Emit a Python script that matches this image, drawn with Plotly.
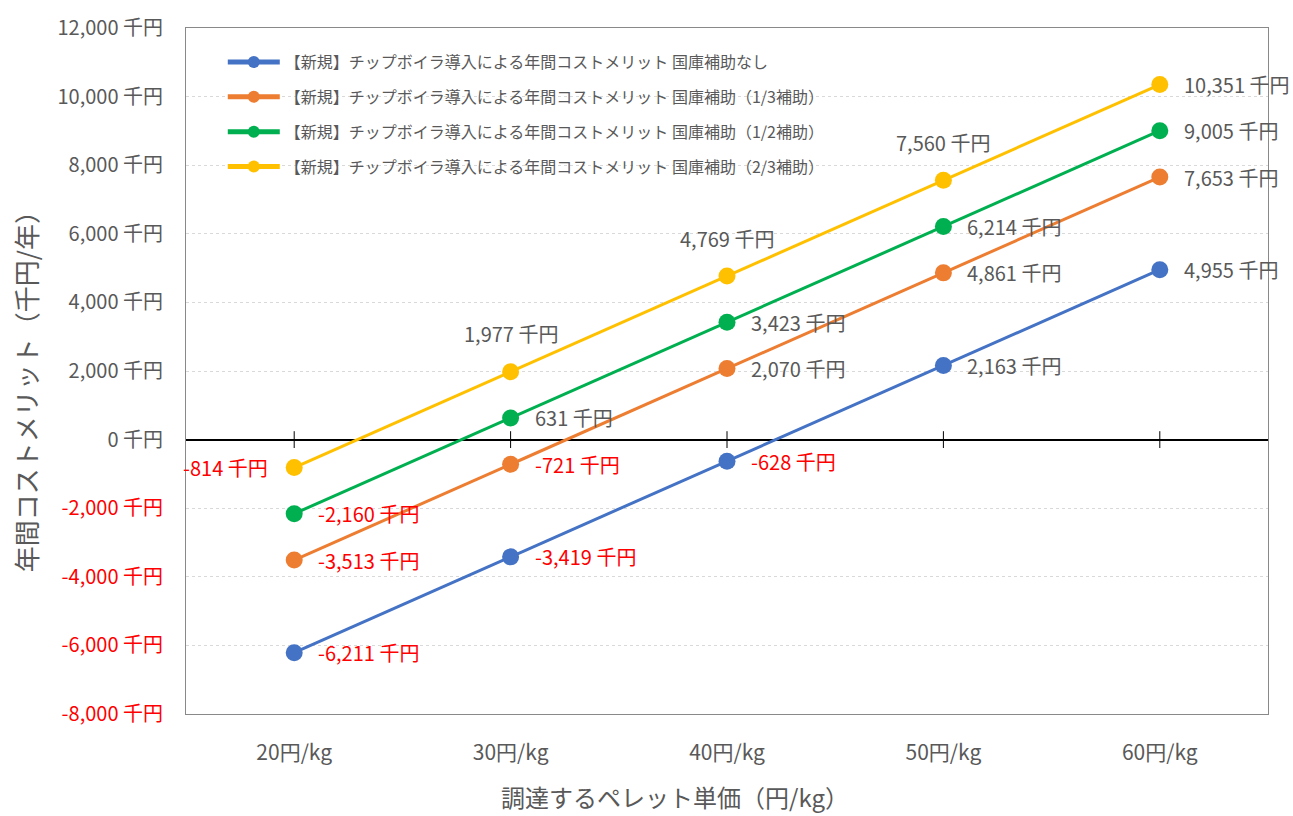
import plotly.graph_objects as go

categories = ["20円/kg", "30円/kg", "40円/kg", "50円/kg", "60円/kg"]
series_names = [
    "【新規】チップボイラ導入による年間コストメリット 国庫補助なし",
    "【新規】チップボイラ導入による年間コストメリット 国庫補助（1/3補助）",
    "【新規】チップボイラ導入による年間コストメリット 国庫補助（1/2補助）",
    "【新規】チップボイラ導入による年間コストメリット 国庫補助（2/3補助）",
]
blue_vals = [-6211, -3419, -628, 2163, 4955]
orange_vals = [-3513, -721, 2070, 4861, 7653]
green_vals = [-2160, 631, 3423, 6214, 9005]
yellow_vals = [-814, 1977, 4769, 7560, 10351]
y_ticks = [-8000, -6000, -4000, -2000, 0, 2000, 4000, 6000, 8000, 10000, 12000]

colors = ["#4472C4", "#ED7D31", "#00B050", "#FFC000"]
all_vals = [blue_vals, orange_vals, green_vals, yellow_vals]
# label placement per series/point
placements = [
    ["r"] * 5,
    ["r"] * 5,
    ["r"] * 5,
    ["l", "t", "t", "t", "r"],
]

FONT = "Noto Sans CJK JP"
GRAY = "#595959"
RED = "#FF0000"

fig = go.Figure()
for name, vals, col in zip(series_names, all_vals, colors):
    fig.add_trace(go.Scatter(
        x=categories, y=vals, name=name, mode="lines+markers",
        line=dict(color=col, width=3),
        marker=dict(color=col, size=17),
        legendgroup=name,
    ))

# cross tick marks on the zero line
fig.add_trace(go.Scatter(
    x=categories, y=[0] * len(categories), mode="markers",
    marker=dict(symbol="line-ns-open", size=12, color="#000000",
                line=dict(color="#000000", width=1)),
    showlegend=False, hoverinfo="skip",
))

annotations = []
for vals, places in zip(all_vals, placements):
    for cat, v, p in zip(categories, vals, places):
        txt = f"{v:,} 千円"
        col = RED if v < 0 else GRAY
        a = dict(x=cat, y=v, xref="x", yref="y", text=txt, showarrow=False,
                 font=dict(family=FONT, size=20, color=col))
        if p == "r":
            a.update(xanchor="left", yanchor="middle", xshift=22)
        elif p == "l":
            a.update(xanchor="right", yanchor="middle", xshift=-24)
        else:
            a.update(xanchor="center", yanchor="middle", yshift=38)
        annotations.append(a)

annotations.append(dict(
    x=0.452, y=-0.12, xref="paper", yref="paper", text="調達するペレット単価（円/kg）",
    showarrow=False, xanchor="center", yanchor="middle",
    font=dict(family=FONT, size=24, color=GRAY)))
annotations.append(dict(
    x=-0.148, y=0.479, xref="paper", yref="paper", text="年間コストメリット（千円/年）",
    showarrow=False, textangle=-90, xanchor="center", yanchor="middle",
    font=dict(family=FONT, size=26, color=GRAY)))

tick_text = [
    (f'<span style="color:{RED}">{t:,} 千円</span>' if t < 0 else f"{t:,} 千円")
    for t in y_ticks
]

fig.update_layout(
    width=1293, height=816,
    margin=dict(l=186, r=25, t=25, b=102),
    plot_bgcolor="white", paper_bgcolor="white",
    font=dict(family=FONT, color=GRAY, size=20),
    showlegend=True,
    legend=dict(
        x=0.034, y=0.975, xanchor="left", yanchor="top",
        bgcolor="rgba(0,0,0,0)", font=dict(family=FONT, size=16, color=GRAY),
        tracegroupgap=11, traceorder="grouped", itemwidth=52,
        itemsizing="constant",
    ),
    annotations=annotations,
    hovermode=False,
)
fig.update_xaxes(
    type="category", range=[-0.5, 4.5],
    showline=True, linecolor="#898989", linewidth=1, mirror=True,
    showgrid=False, ticks="", ticklabelstandoff=20,
    tickfont=dict(family=FONT, size=21, color=GRAY),
)
fig.update_yaxes(
    range=[-8000, 12000], tickvals=y_ticks, ticktext=tick_text,
    showline=True, linecolor="#898989", linewidth=1, mirror=True,
    showgrid=True, gridcolor="#D9D9D9", griddash="dot", gridwidth=1,
    zeroline=True, zerolinecolor="#000000", zerolinewidth=1.5,
    ticks="", ticklabelstandoff=18,
    tickfont=dict(family=FONT, size=20, color=GRAY),
)

fig.write_html("out.html")
